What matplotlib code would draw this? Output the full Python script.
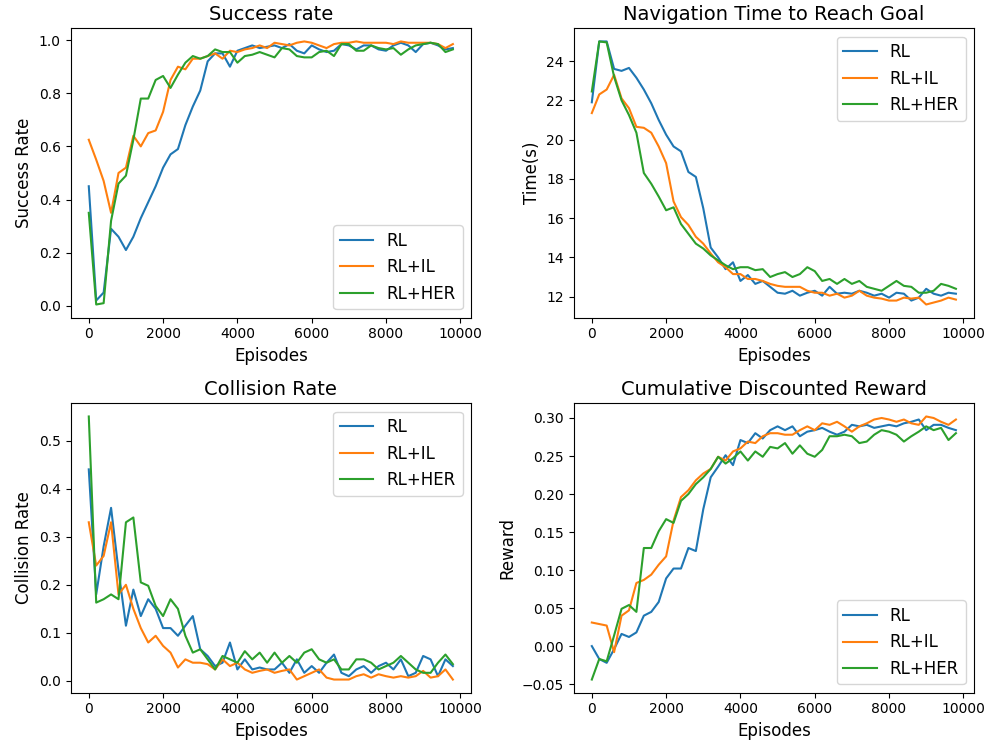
import numpy as np
import matplotlib
matplotlib.use('Agg')
import matplotlib.pyplot as plt

episodes = np.arange(0, 9801, 200)
labels = ['RL', 'RL+IL', 'RL+HER']

success_rl = [0.45, 0.02, 0.05, 0.29, 0.26, 0.21, 0.26, 0.33, 0.39, 0.45,
              0.52, 0.57, 0.59, 0.68, 0.75, 0.81, 0.92, 0.95, 0.95, 0.90,
              0.96, 0.97, 0.98, 0.97, 0.975, 0.98, 0.97, 0.985, 0.96, 0.95,
              0.98, 0.965, 0.955, 0.96, 0.985, 0.98, 0.965, 0.98, 0.98, 0.965,
              0.96, 0.98, 0.99, 0.98, 0.955, 0.985, 0.99, 0.98, 0.965, 0.97]
success_il = [0.625, 0.55, 0.47, 0.35, 0.50, 0.52, 0.64, 0.60, 0.65, 0.66,
              0.73, 0.85, 0.90, 0.89, 0.93, 0.93, 0.94, 0.95, 0.93, 0.96,
              0.955, 0.965, 0.97, 0.98, 0.97, 0.99, 0.985, 0.98, 0.99, 0.995,
              0.99, 0.98, 0.97, 0.985, 0.99, 0.99, 0.995, 0.99, 0.99, 0.99,
              0.99, 0.985, 0.995, 0.99, 0.99, 0.99, 0.99, 0.985, 0.97, 0.985]
success_her = [0.35, 0.005, 0.01, 0.32, 0.46, 0.49, 0.625, 0.78, 0.78, 0.85,
               0.865, 0.82, 0.87, 0.915, 0.94, 0.93, 0.94, 0.965, 0.955, 0.955,
               0.915, 0.94, 0.945, 0.955, 0.945, 0.935, 0.97, 0.965, 0.94, 0.935,
               0.935, 0.955, 0.96, 0.94, 0.985, 0.985, 0.96, 0.96, 0.98, 0.97,
               0.965, 0.97, 0.945, 0.965, 0.98, 0.985, 0.99, 0.985, 0.955, 0.965]

time_rl = [21.9, 25.0, 25.0, 23.6, 23.5, 23.65, 23.15, 22.55, 21.85, 21.0,
           20.25, 19.65, 19.4, 18.35, 18.1, 16.5, 14.5, 14.0, 13.4, 13.75,
           12.8, 13.1, 12.65, 12.8, 12.5, 12.2, 12.15, 12.3, 12.05, 12.2,
           12.3, 12.05, 12.5, 12.15, 12.2, 12.15, 12.3, 12.2, 12.05, 12.15,
           11.95, 12.2, 12.15, 11.8, 11.95, 12.4, 12.15, 12.05, 12.2, 12.15]
time_il = [21.35, 22.3, 22.55, 23.3, 22.1, 21.6, 20.65, 20.6, 20.35, 19.65,
           18.8, 16.85, 16.05, 15.65, 15.05, 14.7, 14.2, 13.75, 13.5, 13.15,
           13.15, 12.9, 12.9, 12.8, 12.65, 12.55, 12.5, 12.5, 12.5, 12.3,
           12.2, 12.2, 12.05, 12.15, 11.95, 12.05, 12.3, 12.05, 11.95, 11.9,
           11.8, 11.8, 11.95, 11.9, 11.95, 11.6, 11.7, 11.8, 11.95, 11.85]
time_her = [22.45, 25.0, 24.95, 23.2, 22.0, 21.25, 20.35, 18.3, 17.75, 17.1,
            16.4, 16.55, 15.7, 15.2, 14.7, 14.45, 14.1, 13.85, 13.6, 13.4,
            13.5, 13.5, 13.35, 13.4, 13.0, 13.15, 13.25, 13.0, 13.15, 13.5,
            13.3, 12.8, 12.9, 12.65, 12.9, 12.65, 12.8, 12.5, 12.4, 12.3,
            12.55, 12.8, 12.55, 12.5, 12.2, 12.2, 12.3, 12.65, 12.55, 12.4]

collision_rl = [0.44, 0.18, 0.28, 0.36, 0.23, 0.115, 0.19, 0.135, 0.17, 0.15,
                0.11, 0.11, 0.094, 0.115, 0.135, 0.066, 0.052, 0.031, 0.038, 0.08,
                0.024, 0.045, 0.024, 0.028, 0.024, 0.024, 0.038, 0.017, 0.045, 0.017,
                0.031, 0.017, 0.038, 0.055, 0.017, 0.01, 0.024, 0.031, 0.017, 0.031,
                0.038, 0.024, 0.045, 0.01, 0.017, 0.052, 0.045, 0.01, 0.045, 0.031]
collision_il = [0.33, 0.24, 0.26, 0.33, 0.18, 0.20, 0.15, 0.11, 0.08, 0.094,
                0.073, 0.059, 0.028, 0.045, 0.038, 0.038, 0.035, 0.024, 0.045, 0.031,
                0.038, 0.024, 0.017, 0.021, 0.024, 0.017, 0.021, 0.024, 0.003, 0.01,
                0.017, 0.024, 0.007, 0.003, 0.003, 0.003, 0.01, 0.014, 0.007, 0.014,
                0.01, 0.007, 0.01, 0.007, 0.01, 0.021, 0.007, 0.01, 0.024, 0.003]
collision_her = [0.55, 0.163, 0.17, 0.18, 0.17, 0.33, 0.34, 0.205, 0.198, 0.156,
                 0.135, 0.17, 0.15, 0.094, 0.059, 0.066, 0.045, 0.024, 0.052, 0.045,
                 0.038, 0.062, 0.045, 0.059, 0.038, 0.059, 0.038, 0.052, 0.038, 0.059,
                 0.066, 0.045, 0.038, 0.045, 0.024, 0.024, 0.045, 0.045, 0.038, 0.024,
                 0.031, 0.038, 0.052, 0.038, 0.024, 0.017, 0.017, 0.038, 0.055, 0.035]

reward_rl = [0.0, -0.017, -0.022, -0.004, 0.016, 0.012, 0.018, 0.04, 0.045, 0.058,
             0.089, 0.102, 0.102, 0.129, 0.125, 0.18, 0.222, 0.236, 0.251, 0.238,
             0.271, 0.267, 0.28, 0.273, 0.284, 0.289, 0.284, 0.289, 0.276, 0.282,
             0.284, 0.287, 0.282, 0.278, 0.282, 0.291, 0.289, 0.291, 0.287, 0.289,
             0.291, 0.289, 0.293, 0.295, 0.298, 0.284, 0.291, 0.291, 0.287, 0.284]
reward_il = [0.031, 0.029, 0.027, -0.008, 0.04, 0.047, 0.083, 0.087, 0.094, 0.107,
             0.118, 0.165, 0.196, 0.205, 0.218, 0.227, 0.233, 0.249, 0.244, 0.256,
             0.26, 0.269, 0.267, 0.276, 0.28, 0.28, 0.278, 0.278, 0.284, 0.289,
             0.284, 0.293, 0.291, 0.295, 0.289, 0.282, 0.289, 0.293, 0.298, 0.30,
             0.298, 0.295, 0.298, 0.293, 0.291, 0.302, 0.30, 0.295, 0.291, 0.298]
reward_her = [-0.044, -0.017, -0.02, 0.014, 0.049, 0.054, 0.045, 0.129, 0.129, 0.151,
              0.167, 0.162, 0.191, 0.20, 0.213, 0.222, 0.233, 0.249, 0.24, 0.247,
              0.256, 0.244, 0.256, 0.249, 0.262, 0.26, 0.267, 0.253, 0.264, 0.253,
              0.249, 0.258, 0.276, 0.276, 0.278, 0.276, 0.267, 0.269, 0.278, 0.284,
              0.282, 0.278, 0.269, 0.276, 0.282, 0.289, 0.284, 0.287, 0.271, 0.28]

panels = [
    ('Success rate', 'Success Rate', [success_rl, success_il, success_her], 'lower right'),
    ('Navigation Time to Reach Goal', 'Time(s)', [time_rl, time_il, time_her], 'upper right'),
    ('Collision Rate', 'Collision Rate', [collision_rl, collision_il, collision_her], 'upper right'),
    ('Cumulative Discounted Reward', 'Reward', [reward_rl, reward_il, reward_her], 'lower right'),
]

fig, axes = plt.subplots(2, 2, figsize=(9.94, 7.54), dpi=100)
fig.subplots_adjust(left=0.071, right=0.98, top=0.9625, bottom=0.0813,
                    wspace=0.256, hspace=0.296)

for ax, (title, ylabel, series, loc) in zip(axes.flat, panels):
    for vals, lab in zip(series, labels):
        ax.plot(episodes, vals, label=lab)
    ax.set_title(title, fontsize=14)
    ax.set_xlabel('Episodes', fontsize=12)
    ax.set_ylabel(ylabel, fontsize=12)
    ax.legend(loc=loc, fontsize=12)

fig.savefig('out.png')
